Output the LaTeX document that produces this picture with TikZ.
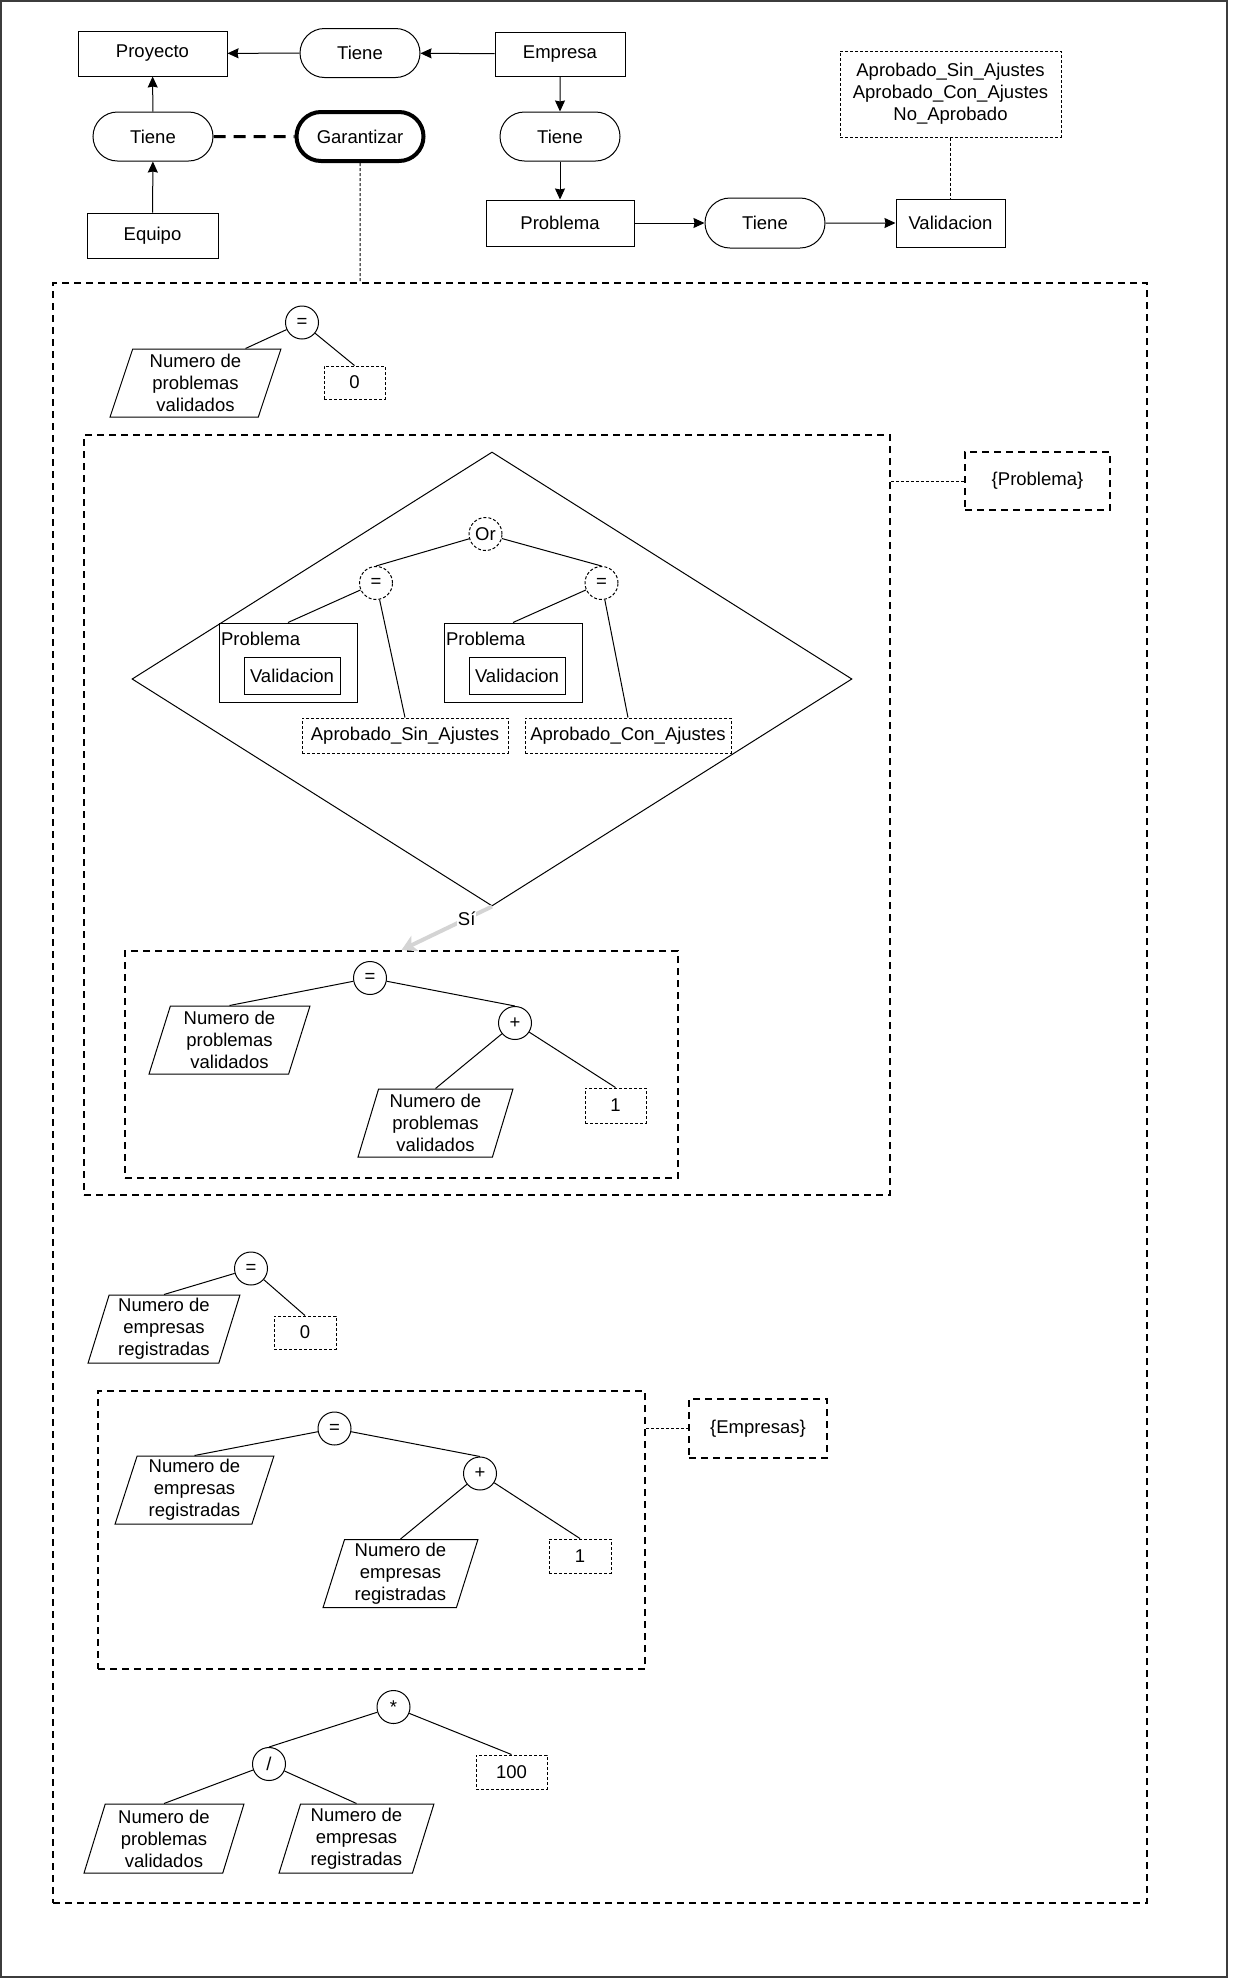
\documentclass[tikz,border=0pt]{standalone}
\usepackage{fontspec}
\setmainfont{Liberation Sans}
\usetikzlibrary{shapes.geometric, shapes.misc, arrows.meta}
\definecolor{frameGray}{RGB}{60,60,60}
\definecolor{siGray}{RGB}{212,212,212}

\begin{document}
\begin{tikzpicture}[x=1pt, y=-1pt, line width=1pt,
    font=\fontsize{18.5}{22}\selectfont,
    ent/.style={draw, rectangle, minimum width=#1, minimum height=45pt, inner sep=0pt},
    rel/.style={draw, rounded rectangle, minimum width=120pt, minimum height=49pt, inner sep=0pt},
    lit/.style={draw, dash pattern=on 3pt off 2pt, minimum width=#1, minimum height=34pt, inner sep=0pt},
    op/.style={draw, circle, minimum size=33pt, inner sep=0pt},
    opdot/.style={op, dash pattern=on 3pt off 2pt},
    var/.style={draw, trapezium, trapezium left angle=74, trapezium right angle=106,
                trapezium stretches=true, minimum height=68pt, minimum width=#1,
                inner sep=0pt, align=center},
    loopbox/.style={draw, line width=2pt, dash pattern=on 7pt off 5pt, inner sep=0pt},
    tag/.style={loopbox, minimum height=58pt},
    arr/.style={-{Stealth[length=11pt, width=10pt, inset=1pt]}},
    dotline/.style={dash pattern=on 3pt off 2pt},
    thickdash/.style={line width=3pt, dash pattern=on 12pt off 8pt}
  ]
  \useasboundingbox (0,0) rectangle (1232,1979);
  \draw[frameGray, line width=1.5pt] (1,1) rectangle (1227,1977);

  % modelo
  \node[ent=149pt] (proy) at (152.5,53.5) {Proyecto};
  \node[rel] (tieneA) at (360,53) {Tiene};
  \node[ent=130pt, minimum height=44pt] (emp) at (560,54) {Empresa};
  \node[rel] (tieneB) at (153,136.5) {Tiene};
  \node[rel, line width=4pt, minimum width=127pt] (gar) at (360,136.5) {Garantizar};
  \node[ent=131pt] (equipo) at (152.5,235.5) {Equipo};
  \node[rel] (tieneC) at (560,136.5) {Tiene};
  \node[ent=148pt, minimum height=46pt] (prob) at (560,223) {Problema};
  \node[rel, minimum height=50pt] (tieneD) at (765,223) {Tiene};
  \node[ent=109pt, minimum height=48pt] (valid) at (950.5,223) {Validacion};
  \node[lit=221pt, minimum height=86pt, align=center] (estados) at (950.5,94)
    {Aprobado\_Sin\_Ajustes\\Aprobado\_Con\_Ajustes\\No\_Aprobado};

  \draw[arr] (emp) -- (tieneA);
  \draw[arr] (tieneA) -- (proy);
  \draw[arr] (tieneB) -- (proy);
  \draw[arr] (equipo) -- (tieneB);
  \draw[arr] (emp) -- (tieneC);
  \draw[arr] (tieneC) -- (prob);
  \draw[arr] (prob) -- (tieneD);
  \draw[arr] (tieneD) -- (valid);
  \draw[thickdash] (tieneB) -- (gar);
  \draw[dotline] (estados) -- (valid);

  % regla
  \node[loopbox, minimum width=1094pt, minimum height=1620pt] (bloque) at (600,1093) {};
  \draw[dotline] (gar) -- (gar |- bloque.north);

  % problemas validados = 0
  \node[op] (eq0) at (302,322.5) {=};
  \node[var=171pt] (p0) at (195.5,383) {Numero de\\problemas\\validados};
  \node[lit=61pt, minimum height=33pt] (zero0) at (354.5,382.5) {0};
  \draw (eq0) -- ([xshift=50pt]p0.north);
  \draw (eq0) -- (zero0.north);

  % para cada problema
  \node[loopbox, minimum width=806pt, minimum height=760pt] (cicloP) at (487,815) {};
  \node[tag, minimum width=145pt] (tagP) at (1037.5,481) {\{Problema\}};
  \draw[dotline] (tagP.west -| cicloP.east) -- (tagP.west);

  \node[draw, diamond, minimum width=720pt, minimum height=454pt, inner sep=0pt] (cond) at (492,679) {};
  \node[opdot] (orN) at (485.5,534) {Or};
  \node[opdot] (eqA) at (376,583) {=};
  \node[opdot] (eqB) at (601.5,583) {=};
  \node[draw, minimum width=138pt, minimum height=79pt] (pbA) at (288,662.5) {};
  \node[anchor=north west, inner sep=2pt, yshift=-7pt] at (pbA.north west) {Problema};
  \node[draw, minimum width=96pt, minimum height=37pt, inner sep=0pt] (vA) at (292,675.5) {Validacion};
  \node[draw, minimum width=138pt, minimum height=79pt] (pbB) at (513,662.5) {};
  \node[anchor=north west, inner sep=2pt, yshift=-7pt] at (pbB.north west) {Problema};
  \node[draw, minimum width=96pt, minimum height=37pt, inner sep=0pt] (vB) at (517,675.5) {Validacion};
  \node[lit=206pt, minimum height=35pt] (sinA) at (405,735.5) {Aprobado\_Sin\_Ajustes};
  \node[lit=206pt, minimum height=35pt] (conA) at (628,735.5) {Aprobado\_Con\_Ajustes};
  \draw (orN) -- (eqA.north);
  \draw (orN) -- (eqB.north);
  \draw (eqA) -- (pbA.north);
  \draw (eqA) -- (sinA.north);
  \draw (eqB) -- (pbB.north);
  \draw (eqB) -- (conA.north);

  \node[loopbox, minimum width=553pt, minimum height=227pt] (siBox) at (401.5,1064.5) {};
  \draw[siGray, line width=4pt, -{Stealth[length=15pt, width=17pt, inset=4pt]}]
    (cond.south) -- node[pos=0.28, fill=white, inner sep=1pt, text=black] {Sí} (siBox.north);

  \node[op] (eqC) at (370,978) {=};
  \node[var=161pt] (pC1) at (229.5,1040) {Numero de\\problemas\\validados};
  \node[op] (plusC) at (515,1023) {+};
  \node[var=155pt] (pC2) at (435.5,1123) {Numero de\\problemas\\validados};
  \node[lit=61pt, minimum height=35pt] (oneC) at (615.5,1105.5) {1};
  \draw (eqC) -- (pC1.north);
  \draw (eqC) -- (plusC.north);
  \draw (plusC) -- (pC2.north);
  \draw (plusC) -- (oneC.north);

  % empresas registradas = 0
  \node[op] (eq1) at (251,1268.5) {=};
  \node[var=152pt] (p1) at (164,1329) {Numero de\\empresas\\registradas};
  \node[lit=62pt, minimum height=33pt] (zero1) at (305,1332.5) {0};
  \draw (eq1) -- (p1.north);
  \draw (eq1) -- (zero1.north);

  % para cada empresa
  \node[loopbox, minimum width=547pt, minimum height=278pt] (cicloE) at (371.5,1530) {};
  \node[tag, minimum width=138pt, minimum height=59pt] (tagE) at (758,1428.5) {\{Empresas\}};
  \draw[dotline] (tagE.west -| cicloE.east) -- (tagE.west);

  \node[op] (eq2) at (334.5,1428.5) {=};
  \node[var=159pt] (p2) at (194.5,1490) {Numero de\\empresas\\registradas};
  \node[op] (plus2) at (480,1473.5) {+};
  \node[var=155pt] (p3) at (400.5,1573.5) {Numero de\\empresas\\registradas};
  \node[lit=62pt] (one2) at (580,1556) {1};
  \draw (eq2) -- (p2.north);
  \draw (eq2) -- (plus2.north);
  \draw (plus2) -- (p3.north);
  \draw (plus2) -- (one2.north);

  % porcentaje
  \node[op] (star) at (393.5,1707) {*};
  \node[op] (divN) at (269,1764) {/};
  \node[lit=71pt] (cien) at (511.5,1772) {100};
  \node[var=160pt, minimum height=69pt] (p4) at (164,1838.5) {Numero de\\problemas\\validados};
  \node[var=155pt, minimum height=69pt] (p5) at (356.5,1838.5) {Numero de\\empresas\\registradas};
  \draw (star) -- (divN.north);
  \draw (star) -- (cien.north);
  \draw (divN) -- (p4.north);
  \draw (divN) -- (p5.north);
\end{tikzpicture}
\end{document}
